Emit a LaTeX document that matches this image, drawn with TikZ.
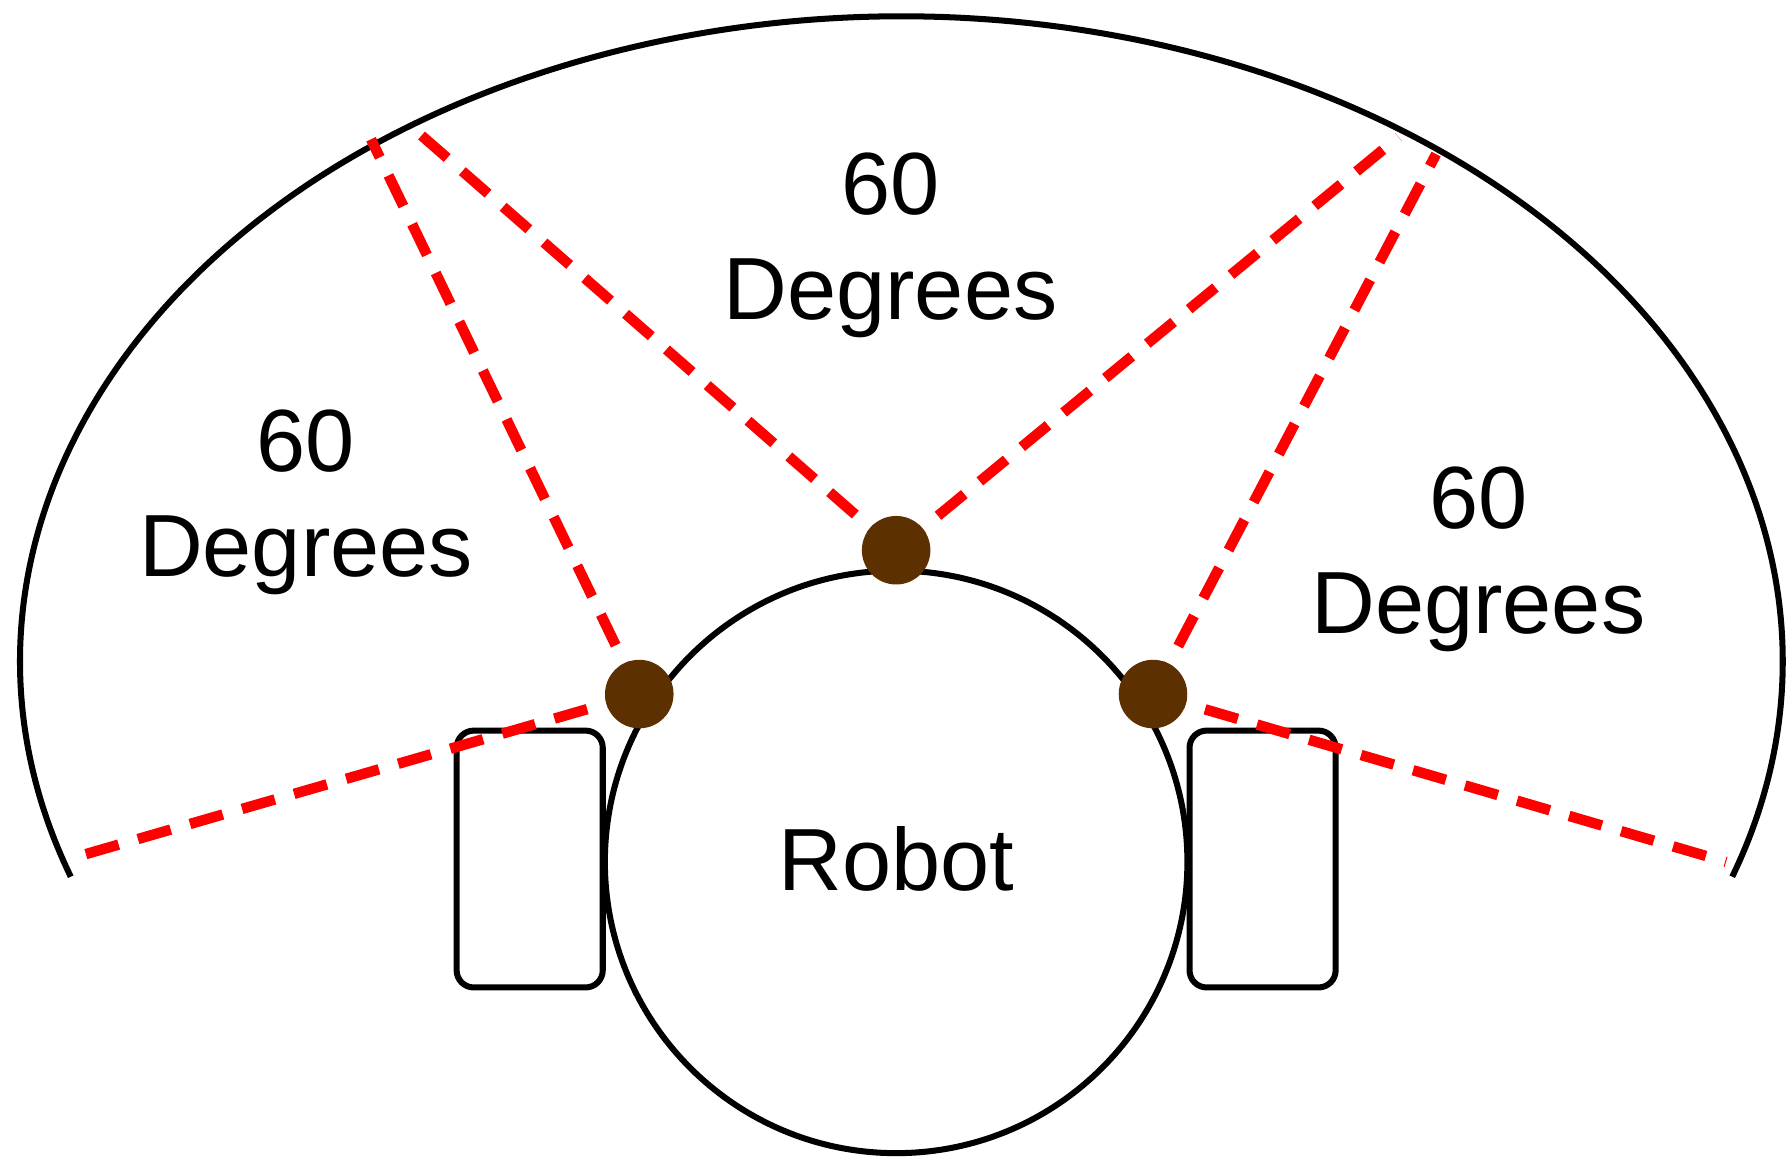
\documentclass[tikz,border=0pt]{standalone}
\usepackage{fontspec}
\setmainfont{Liberation Sans}
\definecolor{sensor}{HTML}{5C3000}
\begin{document}
\begin{tikzpicture}[x=0.01cm,y=-0.01cm,
  outline/.style={line width=1.5pt,black},
  ray/.style={line width=2.6pt,red,dash pattern=on 8.5pt off 5pt},
  dot/.style={circle,fill=sensor,minimum size=0.6cm,inner sep=0pt},
  lbl/.style={font=\fontsize{22}{26}\selectfont,align=center}]
\useasboundingbox (0,0) rectangle (1568,1028);
% field of view
\draw[outline] (62,768) arc[start angle=160.5,end angle=379.5,x radius=772,y radius=565];
% robot body and wheels
\node[outline,draw,circle,minimum size=5.1cm,inner sep=0pt] (robot) at (785,755) {};
\node[lbl] at (785,752) {Robot};
\draw[outline,rounded corners=0.15cm,fill=white] (400,640) rectangle (528,865);
\draw[outline,rounded corners=0.15cm,fill=white] (1042,640) rectangle (1170,865);
% sensor positions
\coordinate (sl) at (560,608);
\coordinate (sc) at (785,482);
\coordinate (sr) at (1010,608);
\coordinate (l1) at (325,122); \coordinate (l2) at (62,752);
\coordinate (c1) at (365,115); \coordinate (c2) at (1225,120);
\coordinate (r1) at (1258,135); \coordinate (r2) at (1512,755);
\draw[ray] (sl) -- (l1); \draw[ray] (sl) -- (l2);
\draw[ray] (sc) -- (c1); \draw[ray] (sc) -- (c2);
\draw[ray] (sr) -- (r1); \draw[ray] (sr) -- (r2);
\node[dot] (dl) at (sl) {};
\node[dot] (dc) at (sc) {};
\node[dot] (dr) at (sr) {};
% labels
\node[lbl] (tc) at (780,215) {60\\Degrees};
\node[lbl] (tl) at (268,440) {60\\Degrees};
\node[lbl] (tr) at (1295,490) {60\\Degrees};
\end{tikzpicture}
\end{document}
